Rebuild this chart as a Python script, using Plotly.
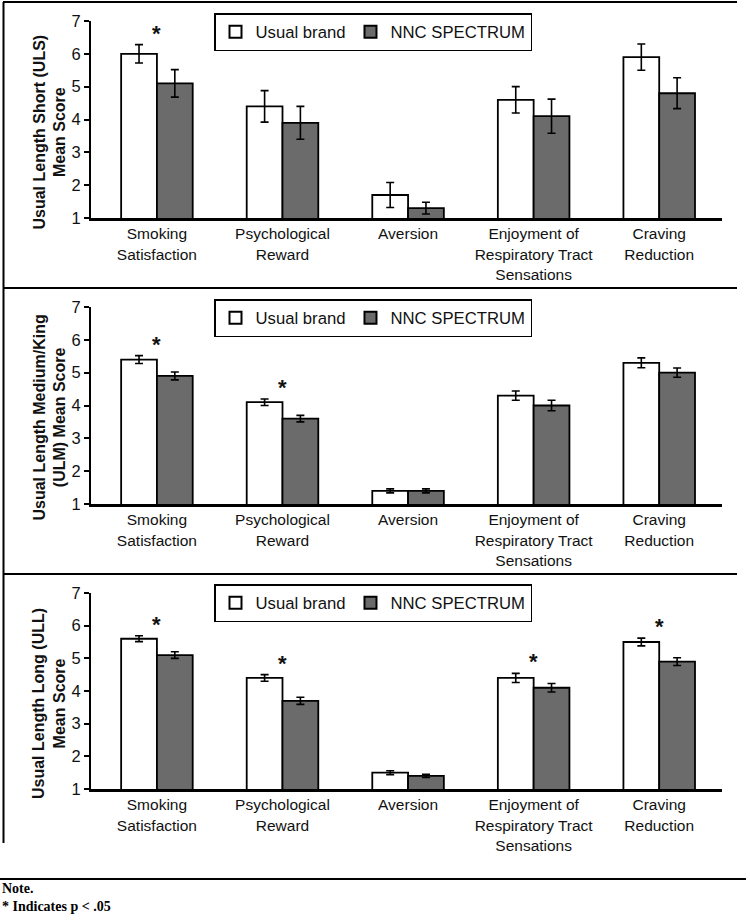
import plotly.graph_objects as go

# ---------------- data ----------------
categories = ["Smoking<br>Satisfaction", "Psychological<br>Reward", "Aversion",
              "Enjoyment of<br>Respiratory Tract<br>Sensations", "Craving<br>Reduction"]
series_names = ["Usual brand", "NNC SPECTRUM"]

uls_usual = [6.0, 4.4, 1.7, 4.6, 5.9]
uls_usual_err = [0.28, 0.48, 0.38, 0.40, 0.40]
uls_nnc = [5.1, 3.9, 1.3, 4.1, 4.8]
uls_nnc_err = [0.42, 0.50, 0.18, 0.52, 0.47]

ulm_usual = [5.4, 4.1, 1.4, 4.3, 5.3]
ulm_usual_err = [0.12, 0.10, 0.06, 0.14, 0.15]
ulm_nnc = [4.9, 3.6, 1.4, 4.0, 5.0]
ulm_nnc_err = [0.12, 0.10, 0.06, 0.16, 0.14]

ull_usual = [5.6, 4.4, 1.5, 4.4, 5.5]
ull_usual_err = [0.09, 0.10, 0.06, 0.14, 0.12]
ull_nnc = [5.1, 3.7, 1.4, 4.1, 4.9]
ull_nnc_err = [0.10, 0.11, 0.05, 0.13, 0.12]

uls_significant = [0]
ulm_significant = [0, 1]
ull_significant = [0, 1, 3, 4]

panel_titles = ["Usual Length Short (ULS)<br>Mean Score",
                "Usual Length Medium/King<br>(ULM) Mean Score",
                "Usual Length Long (ULL)<br>Mean Score"]
y_ticks = [1, 2, 3, 4, 5, 6, 7]
note_text = "Note.<br>* Indicates p < .05"

# ---------------- layout helpers ----------------
W, H = 750, 921
SANS = "Liberation Sans, Arial, sans-serif"
SERIF = "Liberation Serif, Times New Roman, serif"
TXT = "#111111"
DARK = "#6b6b6b"


def px_x(p):
    return p / W


def px_y(p):
    return 1 - p / H


panels = [
    dict(usual=uls_usual, usual_err=uls_usual_err, nnc=uls_nnc, nnc_err=uls_nnc_err,
         sig=uls_significant, top=21, bottom=218, legend_top=13),
    dict(usual=ulm_usual, usual_err=ulm_usual_err, nnc=ulm_nnc, nnc_err=ulm_nnc_err,
         sig=ulm_significant, top=307, bottom=504, legend_top=299),
    dict(usual=ull_usual, usual_err=ull_usual_err, nnc=ull_nnc, nnc_err=ull_nnc_err,
         sig=ull_significant, top=593, bottom=789, legend_top=584),
]

fig = go.Figure()
layout = dict(
    width=W, height=H, margin=dict(l=0, r=0, t=0, b=0, pad=0, autoexpand=False),
    paper_bgcolor="white", plot_bgcolor="white",
    barmode="group", bargap=0.43, bargroupgap=0.0,
    font=dict(family=SANS, color=TXT, size=15),
    annotations=[], shapes=[],
)

for k, p in enumerate(panels, start=1):
    sfx = "" if k == 1 else str(k)
    xa, ya = "x" + sfx, "y" + sfx
    leg = "legend" + sfx
    fig.add_trace(go.Bar(
        x=categories, y=p["usual"], name=series_names[0], xaxis=xa, yaxis=ya, legend=leg,
        marker=dict(color="white", line=dict(color="black", width=1.8)),
        error_y=dict(type="data", array=p["usual_err"], color="black", thickness=1.6, width=4),
    ))
    fig.add_trace(go.Bar(
        x=categories, y=p["nnc"], name=series_names[1], xaxis=xa, yaxis=ya, legend=leg,
        marker=dict(color=DARK, line=dict(color="black", width=1.8)),
        error_y=dict(type="data", array=p["nnc_err"], color="black", thickness=1.6, width=4),
    ))
    layout["xaxis" + sfx] = dict(
        domain=[px_x(91), px_x(722)], anchor=ya, type="category", range=[-0.525, 4.5],
        showline=True, linecolor="black", linewidth=2.5, ticks="", showgrid=False,
        tickfont=dict(size=15.5, color=TXT, family=SANS), fixedrange=True,
        automargin=False,
    )
    layout["yaxis" + sfx] = dict(
        domain=[px_y(p["bottom"]), px_y(p["top"])], anchor=xa, range=[1, 7],
        tickvals=y_ticks, showline=True, linecolor="black", linewidth=2,
        ticks="outside", ticklen=5, tickwidth=2, tickcolor="black", ticklabelstandoff=0,
        showgrid=False, zeroline=False, tickfont=dict(size=16.5, color=TXT, family=SANS),
        fixedrange=True, automargin=False,
    )
    layout[leg] = dict(
        x=px_x(214), y=px_y(p["legend_top"]), xanchor="left", yanchor="top",
        xref="container", yref="container",
        orientation="h", bgcolor="white", bordercolor="black", borderwidth=1.5,
        font=dict(size=16.7, color=TXT, family=SANS), itemsizing="constant",
        traceorder="normal",
    )
    # y axis title as rotated text
    layout["annotations"].append(dict(
        text="<b>" + panel_titles[k - 1] + "</b>", xref="paper", yref=ya + " domain",
        x=px_x(49), y=0.5, yshift=-12, textangle=-90, showarrow=False,
        xanchor="center", yanchor="middle", font=dict(size=16, color=TXT, family=SANS),
    ))
    # significance asterisks
    for i in p["sig"]:
        top = max(p["usual"][i] + p["usual_err"][i], p["nnc"][i] + p["nnc_err"][i])
        layout["annotations"].append(dict(
            text="<b>*</b>", xref=xa, yref=ya, x=i, y=top, yanchor="bottom",
            xanchor="center", showarrow=False, yshift=-3,
            font=dict(size=22, color=TXT, family=SANS),
        ))

# panel frame lines
line = dict(color="black", width=2)
for y0 in (2, 288, 574):
    layout["shapes"].append(dict(type="line", xref="paper", yref="paper",
                                 x0=px_x(3), x1=px_x(737), y0=px_y(y0), y1=px_y(y0), line=line))
layout["shapes"].append(dict(type="line", xref="paper", yref="paper",
                             x0=px_x(3.5), x1=px_x(3.5), y0=px_y(2), y1=px_y(843), line=line))
layout["shapes"].append(dict(type="line", xref="paper", yref="paper",
                             x0=px_x(0), x1=px_x(746), y0=px_y(879), y1=px_y(879), line=line))

# note text
layout["annotations"].append(dict(
    text="<b>" + note_text + "</b>", xref="paper", yref="paper", x=0, y=px_y(897),
    xanchor="left", yanchor="middle", align="left", showarrow=False,
    font=dict(size=14, color="black", family=SERIF),
))

fig.update_layout(**layout)
fig.write_html("out.html", config=dict(displayModeBar=False),
               post_script="document.body.style.margin='0';document.body.style.padding='0';")
